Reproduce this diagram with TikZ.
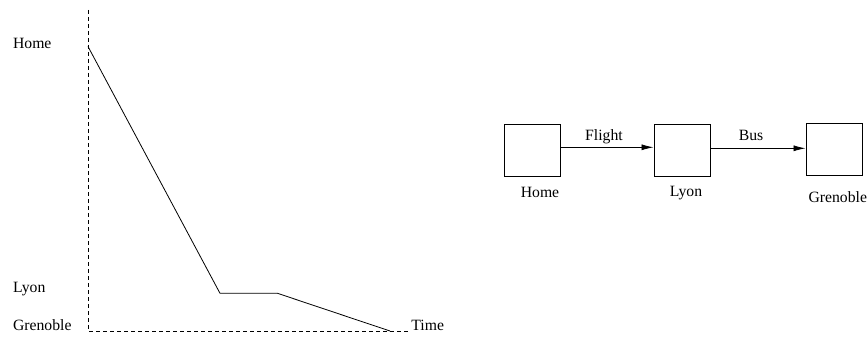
\documentclass[tikz,border=0pt]{standalone}
\usepackage{fontspec}
\setmainfont{Liberation Serif}
\usetikzlibrary{arrows.meta}
\begin{document}
\begin{tikzpicture}[x=1pt,y=-1pt,line width=0.8pt,
  lbl/.style={inner sep=0pt,font=\fontsize{15.7}{18}\selectfont},
  axis/.style={dash pattern=on 4pt off 3pt},
  stop/.style={draw,minimum width=56.7pt,minimum height=52pt,inner sep=0pt},
  hop/.style={-{Latex[length=12pt,width=6pt]}}]
\useasboundingbox (0,0) rectangle (868,337);

% distance-versus-time plot
\coordinate (top) at (88,10);
\coordinate (origin) at (88,331);
\coordinate (tend) at (410,331);
\coordinate (p0) at (88,46.5);
\coordinate (p1) at (220,293.3);
\coordinate (p2) at (277.5,293.3);
\coordinate (p3) at (390,331);
\draw[axis] (top) -- (origin) -- (tend);
\draw (p0) -- (p1) -- (p2) -- (p3);

\node[lbl,anchor=base west] (yhome) at (12.7,48.3) {Home};
\node[lbl,anchor=base west] (ylyon) at (12.7,292.7) {Lyon};
\node[lbl,anchor=base west] (ygren) at (12.7,330) {Grenoble};
\node[lbl,anchor=base west] (xtime) at (411,330.5) {Time};

% route as a chain of stops
\node[stop] (bhome) at (532.3,150) {};
\node[stop] (blyon) at (682.3,150) {};
\node[stop] (bgren) at (834.3,149.3) {};
\draw[hop] ([yshift=2.7pt]bhome.east) -- ([yshift=2.7pt]blyon.west);
\draw[hop] ([yshift=1.7pt]blyon.east) -- ([yshift=1pt]bgren.west);

\node[lbl,anchor=base] (tflight) at (604,140) {Flight};
\node[lbl,anchor=base] (tbus) at (751,140) {Bus};
\node[lbl,anchor=base] (nhome) at (540,197.7) {Home};
\node[lbl,anchor=base] (nlyon) at (686,196) {Lyon};
\node[lbl,anchor=base] (ngren) at (837.8,202.3) {Grenoble};
\end{tikzpicture}
\end{document}
